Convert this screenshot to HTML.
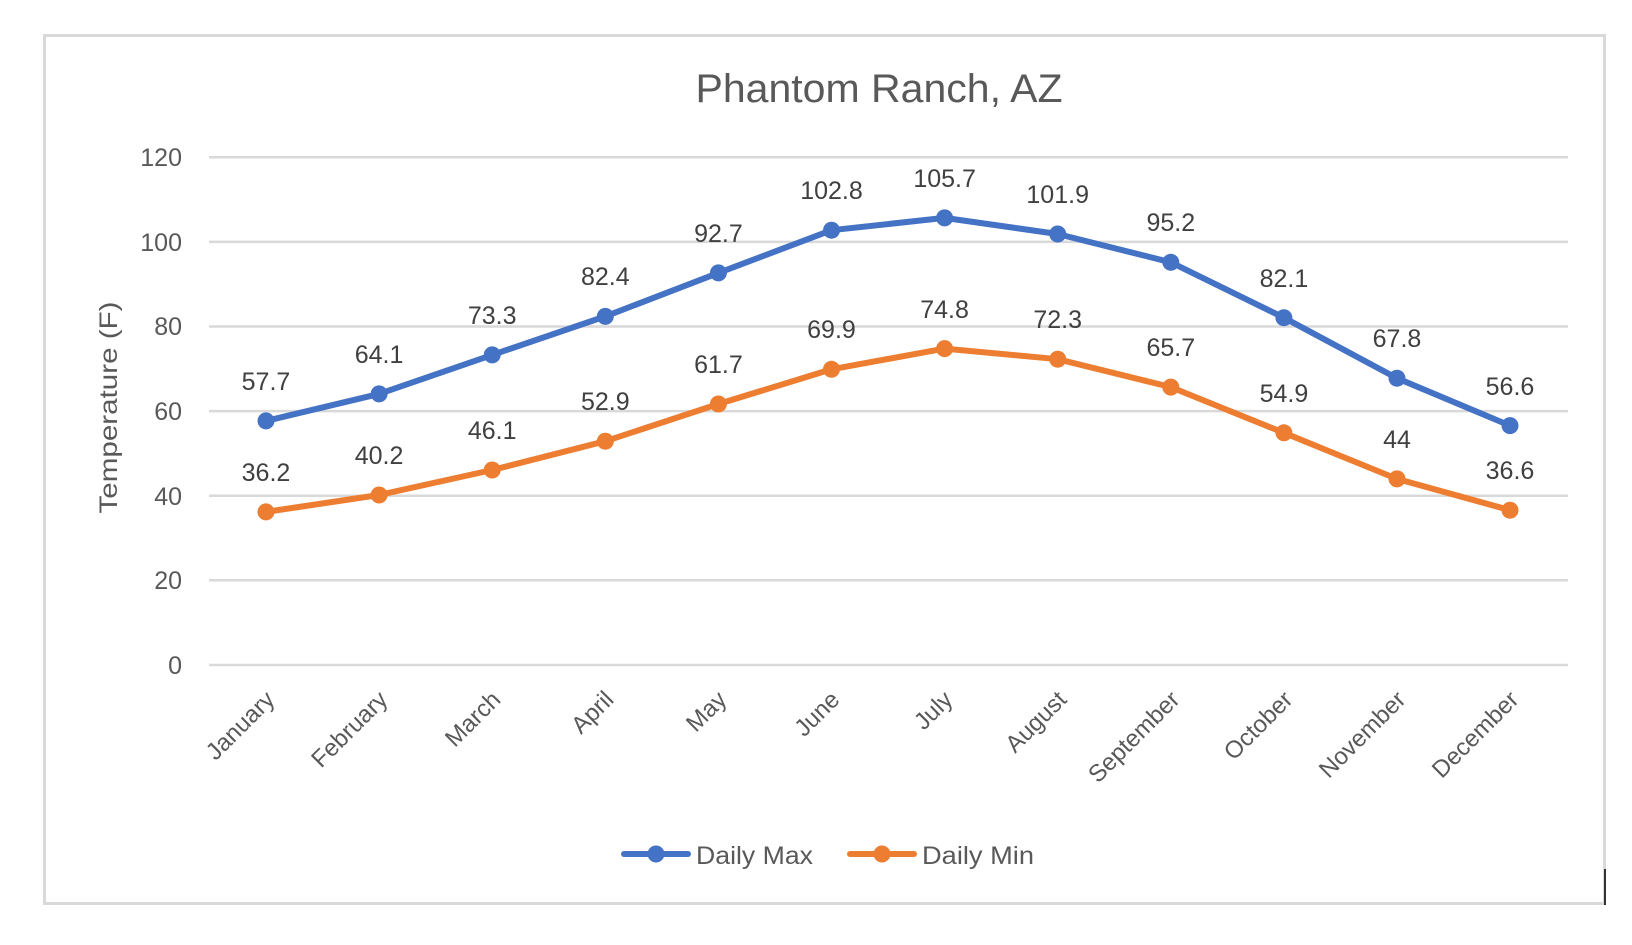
<!DOCTYPE html>
<html><head><meta charset="utf-8"><style>
html,body{margin:0;padding:0;background:#fff}
svg{display:block}
text{font-family:"Liberation Sans",sans-serif;fill:#595959}
</style></head><body>
<svg width="1632" height="945" viewBox="0 0 1632 945" xmlns="http://www.w3.org/2000/svg">
<rect x="44.5" y="35.5" width="1560" height="868" fill="#fff" stroke="#d9d9d9" stroke-width="3"/>
<line x1="1605" y1="869" x2="1605" y2="905" stroke="#333" stroke-width="2"/>
<text x="879" y="102" font-size="40" text-anchor="middle" textLength="367" lengthAdjust="spacingAndGlyphs">Phantom Ranch, AZ</text>
<g stroke="#d9d9d9" stroke-width="2.5">
<line x1="209" y1="157.3" x2="1568" y2="157.3"/>
<line x1="209" y1="241.9" x2="1568" y2="241.9"/>
<line x1="209" y1="326.5" x2="1568" y2="326.5"/>
<line x1="209" y1="411.1" x2="1568" y2="411.1"/>
<line x1="209" y1="495.7" x2="1568" y2="495.7"/>
<line x1="209" y1="580.3" x2="1568" y2="580.3"/>
<line x1="209" y1="665" x2="1568" y2="665"/>
</g>
<g font-size="25" text-anchor="end">
<text x="182" y="166">120</text>
<text x="182" y="251">100</text>
<text x="182" y="335">80</text>
<text x="182" y="420">60</text>
<text x="182" y="505">40</text>
<text x="182" y="589">20</text>
<text x="182" y="674">0</text>
</g>
<text transform="translate(117,407.5) rotate(-90)" font-size="25" text-anchor="middle" textLength="212" lengthAdjust="spacingAndGlyphs">Temperature (F)</text>
<g font-size="24" text-anchor="end">
<text transform="translate(276,701) rotate(-45)">January</text>
<text transform="translate(389,701) rotate(-45)">February</text>
<text transform="translate(502,701) rotate(-45)">March</text>
<text transform="translate(615,701) rotate(-45)">April</text>
<text transform="translate(728,701) rotate(-45)">May</text>
<text transform="translate(841,701) rotate(-45)">June</text>
<text transform="translate(954,701) rotate(-45)">July</text>
<text transform="translate(1068,701) rotate(-45)">August</text>
<text transform="translate(1181,701) rotate(-45)">September</text>
<text transform="translate(1294,701) rotate(-45)">October</text>
<text transform="translate(1407,701) rotate(-45)">November</text>
<text transform="translate(1520,701) rotate(-45)">December</text>
</g>
<polyline fill="none" stroke="#4472c4" stroke-width="6" stroke-linejoin="round" points="266,420.9 379.1,393.9 492.2,354.9 605.3,316.4 718.4,272.9 831.5,230.2 944.6,217.9 1057.7,234 1170.8,262.3 1283.9,317.7 1397,378.2 1510,425.6"/>
<polyline fill="none" stroke="#ed7d31" stroke-width="6" stroke-linejoin="round" points="266,511.9 379.1,495 492.2,470 605.3,441.2 718.4,404 831.5,369.3 944.6,348.6 1057.7,359.2 1170.8,387.1 1283.9,432.8 1397,478.9 1510,510.2"/>
<g fill="#4472c4">
<circle cx="266" cy="420.9" r="8.5"/><circle cx="379.1" cy="393.9" r="8.5"/><circle cx="492.2" cy="354.9" r="8.5"/><circle cx="605.3" cy="316.4" r="8.5"/><circle cx="718.4" cy="272.9" r="8.5"/><circle cx="831.5" cy="230.2" r="8.5"/><circle cx="944.6" cy="217.9" r="8.5"/><circle cx="1057.7" cy="234" r="8.5"/><circle cx="1170.8" cy="262.3" r="8.5"/><circle cx="1283.9" cy="317.7" r="8.5"/><circle cx="1397" cy="378.2" r="8.5"/><circle cx="1510" cy="425.6" r="8.5"/>
</g>
<g fill="#ed7d31">
<circle cx="266" cy="511.9" r="8.5"/><circle cx="379.1" cy="495" r="8.5"/><circle cx="492.2" cy="470" r="8.5"/><circle cx="605.3" cy="441.2" r="8.5"/><circle cx="718.4" cy="404" r="8.5"/><circle cx="831.5" cy="369.3" r="8.5"/><circle cx="944.6" cy="348.6" r="8.5"/><circle cx="1057.7" cy="359.2" r="8.5"/><circle cx="1170.8" cy="387.1" r="8.5"/><circle cx="1283.9" cy="432.8" r="8.5"/><circle cx="1397" cy="478.9" r="8.5"/><circle cx="1510" cy="510.2" r="8.5"/>
</g>
<g font-size="25" text-anchor="middle">
<text x="266" y="390" style="fill:#404040">57.7</text>
<text x="379.1" y="363" style="fill:#404040">64.1</text>
<text x="492.2" y="324" style="fill:#404040">73.3</text>
<text x="605.3" y="285" style="fill:#404040">82.4</text>
<text x="718.4" y="242" style="fill:#404040">92.7</text>
<text x="831.5" y="199" style="fill:#404040">102.8</text>
<text x="944.6" y="187" style="fill:#404040">105.7</text>
<text x="1057.7" y="203" style="fill:#404040">101.9</text>
<text x="1170.8" y="231" style="fill:#404040">95.2</text>
<text x="1283.9" y="287" style="fill:#404040">82.1</text>
<text x="1397" y="347" style="fill:#404040">67.8</text>
<text x="1510" y="395" style="fill:#404040">56.6</text>
<text x="266" y="481" style="fill:#404040">36.2</text>
<text x="379.1" y="464" style="fill:#404040">40.2</text>
<text x="492.2" y="439" style="fill:#404040">46.1</text>
<text x="605.3" y="410" style="fill:#404040">52.9</text>
<text x="718.4" y="373" style="fill:#404040">61.7</text>
<text x="831.5" y="338" style="fill:#404040">69.9</text>
<text x="944.6" y="318" style="fill:#404040">74.8</text>
<text x="1057.7" y="328" style="fill:#404040">72.3</text>
<text x="1170.8" y="356" style="fill:#404040">65.7</text>
<text x="1283.9" y="402" style="fill:#404040">54.9</text>
<text x="1397" y="448" style="fill:#404040">44</text>
<text x="1510" y="479" style="fill:#404040">36.6</text>
</g>
<line x1="624" y1="854" x2="688" y2="854" stroke="#4472c4" stroke-width="6" stroke-linecap="round"/>
<circle cx="656" cy="854" r="8.5" fill="#4472c4"/>
<text x="696" y="864" font-size="25" textLength="117" lengthAdjust="spacingAndGlyphs">Daily Max</text>
<line x1="850" y1="854" x2="914" y2="854" stroke="#ed7d31" stroke-width="6" stroke-linecap="round"/>
<circle cx="882" cy="854" r="8.5" fill="#ed7d31"/>
<text x="922" y="864" font-size="25" textLength="112" lengthAdjust="spacingAndGlyphs">Daily Min</text>
</svg>
</body></html>
